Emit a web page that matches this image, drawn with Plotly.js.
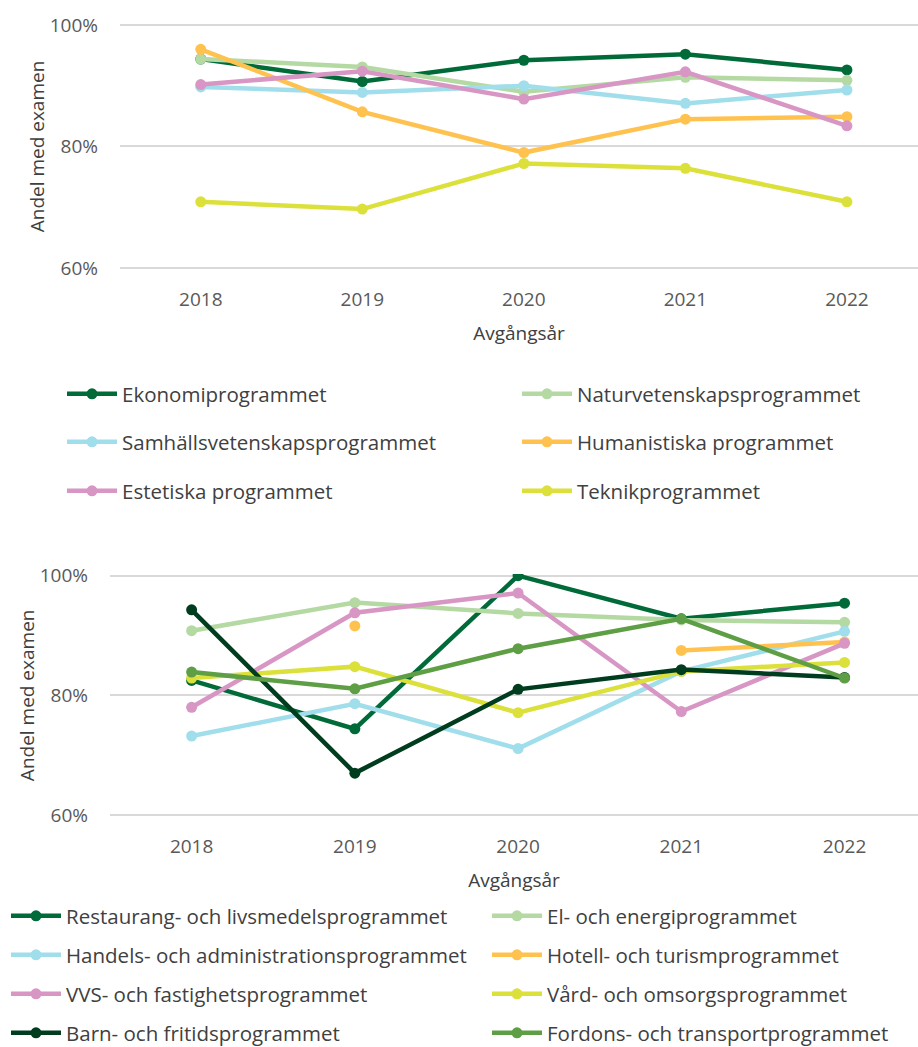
<!DOCTYPE html>
<html>
<head>
<meta charset="utf-8">
<script src="https://cdn.plot.ly/plotly-3.0.1.min.js"></script>
<style>html,body{margin:0;padding:0;background:#fff}#chart{width:918px;height:1047px}</style>
</head>
<body>
<div id="chart"></div>
<script>
const years = [2018, 2019, 2020, 2021, 2022];

// Top chart (högskoleförberedande program)
const topNames = ["Ekonomiprogrammet", "Naturvetenskapsprogrammet", "Samhällsvetenskapsprogrammet", "Humanistiska programmet", "Estetiska programmet", "Teknikprogrammet"];
const ekonomi = [94.4, 90.7, 94.2, 95.2, 92.6];
const natur = [94.4, 93.1, 89.0, 91.4, 90.9];
const samhalls = [89.8, 88.9, 90.0, 87.1, 89.3];
const humanistiska = [96.0, 85.7, 79.0, 84.5, 84.9];
const estetiska = [90.2, 92.4, 87.8, 92.3, 83.4];
const teknik = [70.9, 69.7, 77.2, 76.4, 70.9];

// Bottom chart (yrkesprogram)
const bottomNames = ["Restaurang- och livsmedelsprogrammet", "El- och energiprogrammet", "Handels- och administrationsprogrammet", "Hotell- och turismprogrammet", "VVS- och fastighetsprogrammet", "Vård- och omsorgsprogrammet", "Barn- och fritidsprogrammet", "Fordons- och transportprogrammet"];
const restaurang = [82.5, 74.4, 100.0, 92.8, 95.4];
const elenergi = [90.8, 95.5, 93.7, 92.6, 92.2];
const handels = [73.2, 78.6, 71.1, 84.0, 90.7];
const hotell = [null, 91.6, null, 87.5, 88.9];
const vvs = [78.0, 93.8, 97.1, 77.3, 88.7];
const vard = [82.9, 84.8, 77.1, 84.0, 85.5];
const barn = [94.3, 67.0, 81.0, 84.3, 83.0];
const fordons = [83.9, 81.1, 87.8, 92.8, 82.9];

const yTicks = [60, 80, 100];
const yTickText = ["60%", "80%", "100%"];
const xTitle = "Avgångsår";
const yTitle = "Andel med examen";

const topColors = ["#006B38", "#B4D9A3", "#A1DEEB", "#FFC24F", "#D896C4", "#DCE03A"];
const bottomColors = ["#006B38", "#B4D9A3", "#A1DEEB", "#FFC24F", "#D896C4", "#DCE03A", "#003D1E", "#5E9F45"];

const topSeries = [ekonomi, natur, samhalls, humanistiska, estetiska, teknik];
const bottomSeries = [restaurang, elenergi, handels, hotell, vvs, vard, barn, fordons];

const W = 918, H = 1047;
const py = p => 1 - p / H;
const FONT = "Open Sans";
const TXT = "#404040";

// legend slot positions (pixels): column x of symbol start, row y centre
const topCols = [62, 517], topRows = [394, 442, 491];
const botCols = [6, 487], botRows = [916, 955, 994, 1033];

const traces = [];
const legends = {};
let li = 1;
function legendKey() { const k = li === 1 ? "legend" : "legend" + li; li++; return k; }
function legendAt(xpx, ypx) {
  return {
    orientation: "h", x: xpx / W, y: py(ypx), xanchor: "left", yanchor: "middle",
    itemwidth: 50, font: {family: FONT, size: 20.5, color: TXT}, bgcolor: "rgba(0,0,0,0)",
    itemclick: false, itemdoubleclick: false
  };
}

topSeries.forEach((s, i) => {
  const k = legendKey();
  legends[k] = legendAt(topCols[i % 2], topRows[Math.floor(i / 2)]);
  traces.push({
    x: years, y: s, name: topNames[i], type: "scatter", mode: "lines+markers",
    xaxis: "x", yaxis: "y", legend: k,
    line: {color: topColors[i], width: 4.5}, marker: {color: topColors[i], size: 11},
    connectgaps: false
  });
});
bottomSeries.forEach((s, i) => {
  const k = legendKey();
  legends[k] = legendAt(botCols[i % 2], botRows[Math.floor(i / 2)]);
  traces.push({
    x: years, y: s, name: bottomNames[i], type: "scatter", mode: "lines+markers",
    xaxis: "x2", yaxis: "y2", legend: k,
    line: {color: bottomColors[i], width: 4.5}, marker: {color: bottomColors[i], size: 11},
    connectgaps: false
  });
});

function xax(domL, rngMax, anchor) {
  return {
    domain: [domL / W, 1], range: [2017.5, rngMax], tickvals: years, ticktext: years.map(String),
    showgrid: false, zeroline: false, showline: false, ticks: "", ticklabelstandoff: 16,
    tickfont: {family: FONT, size: 19, color: "#595959"}, anchor: anchor,
    title: {text: xTitle, font: {family: FONT, size: 19, color: TXT}, standoff: 15},
    fixedrange: true
  };
}
function yax(top100, bot60, anchor) {
  const pxPer = (bot60 - top100) / 40;
  const pad = 0.3;
  return {
    domain: [py(bot60 + pad * pxPer), py(top100 - pad * pxPer)], range: [60 - pad, 100 + pad],
    tickvals: yTicks, ticktext: yTickText,
    showgrid: true, gridcolor: "#D9D9D9", gridwidth: 1.5, zeroline: false, showline: false,
    ticks: "", ticklabelstandoff: 21, anchor: anchor,
    tickfont: {family: FONT, size: 19, color: "#595959"},
    title: {text: yTitle, font: {family: FONT, size: 19, color: TXT}, standoff: 0},
    fixedrange: true
  };
}

const layout = Object.assign({
  width: W, height: H, margin: {l: 0, r: 0, t: 0, b: 0, autoexpand: false},
  paper_bgcolor: "#fff", plot_bgcolor: "#fff", showlegend: true,
  font: {family: FONT, color: TXT},
  xaxis: xax(120, 2022.44, "y"),
  yaxis: yax(25, 268, "x"),
  xaxis2: xax(110, 2022.45, "y2"),
  yaxis2: yax(575.7, 815, "x2")
}, legends);

Plotly.newPlot("chart", traces, layout, {displayModeBar: false});
</script>
</body>
</html>
